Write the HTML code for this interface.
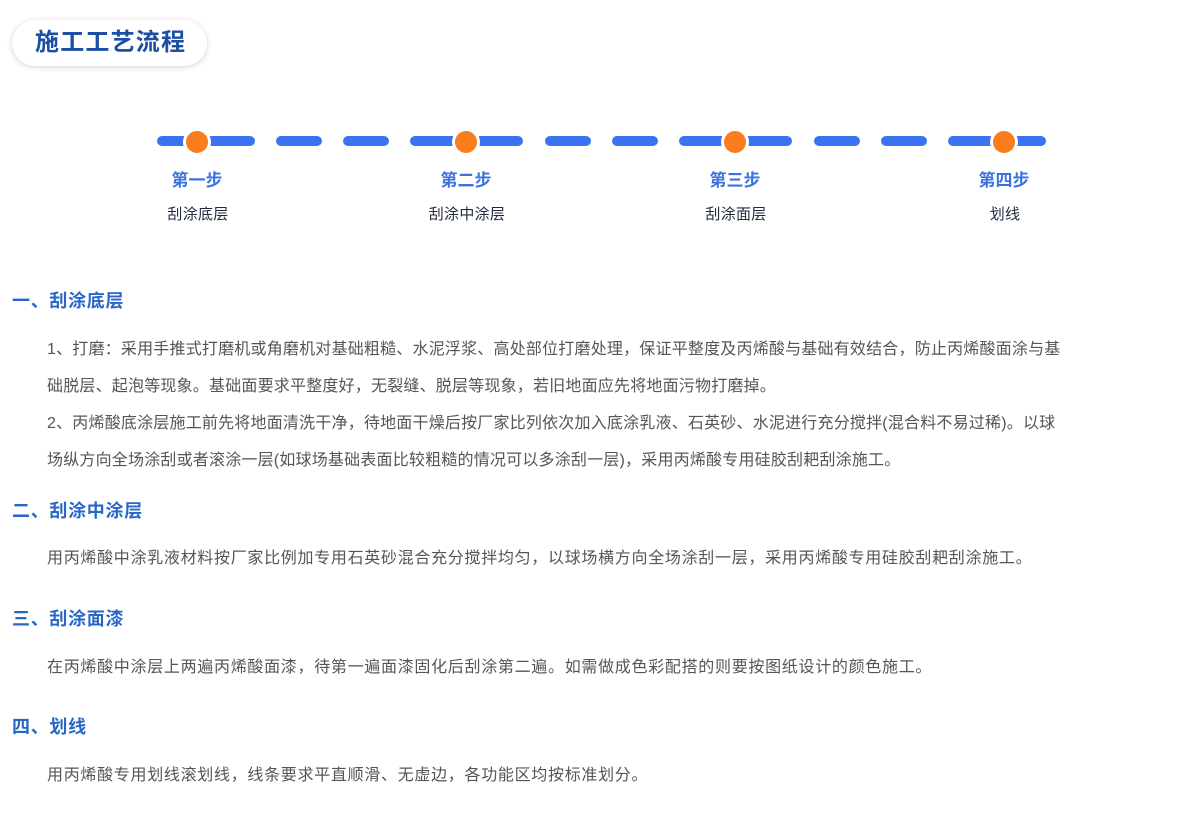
<!DOCTYPE html>
<html><head><meta charset="utf-8"><style>
body{margin:0;width:1202px;height:824px;background:#fff;position:relative;overflow:hidden;font-family:"Liberation Sans","Noto Sans CJK SC",sans-serif}
.pill{position:absolute;left:12px;top:20px;width:195px;height:46px;border-radius:23px;background:#fff;box-shadow:0 1px 6px rgba(0,0,0,.18);}
.pill span{position:absolute;left:23px;top:8px;font-size:24px;font-weight:bold;color:#1b4fa3;line-height:30px;letter-spacing:1.2px}
.d{position:absolute;top:136px;height:10px;border-radius:5px;background:#3a72f2}
.o{position:absolute;top:128px;width:22px;height:22px;margin-left:-14px;border-radius:50%;background:#f97d1d;border:3px solid #fff}
.s{position:absolute;top:170px;width:120px;margin-left:-60px;text-align:center;font-size:17px;font-weight:bold;color:#3a72e0;line-height:22px}
.n{position:absolute;top:205px;width:140px;margin-left:-70px;text-align:center;font-size:15px;color:#222a40;line-height:20px;letter-spacing:0.3px}
.h{position:absolute;left:12px;font-size:18px;font-weight:bold;color:#2866c8;line-height:24px;white-space:nowrap;letter-spacing:0.7px}
.p{position:absolute;left:47px;font-size:16px;color:#555;line-height:37px;white-space:nowrap;letter-spacing:0.7px}
</style></head><body>
<div class="pill"><span>施工工艺流程</span></div>
<div class="d" style="left:157px;width:98px"></div>
<div class="d" style="left:276px;width:46px"></div>
<div class="d" style="left:343px;width:46px"></div>
<div class="d" style="left:410px;width:113px"></div>
<div class="d" style="left:545px;width:46px"></div>
<div class="d" style="left:612px;width:46px"></div>
<div class="d" style="left:679px;width:113px"></div>
<div class="d" style="left:814px;width:46px"></div>
<div class="d" style="left:881px;width:46px"></div>
<div class="d" style="left:948px;width:98px"></div>
<div class="o" style="left:197px"></div>
<div class="o" style="left:466px"></div>
<div class="o" style="left:735px"></div>
<div class="o" style="left:1004px"></div>
<div class="s" style="left:197px">第一步</div>
<div class="s" style="left:466px">第二步</div>
<div class="s" style="left:735px">第三步</div>
<div class="s" style="left:1004px">第四步</div>
<div class="n" style="left:198px">刮涂底层</div>
<div class="n" style="left:467px">刮涂中涂层</div>
<div class="n" style="left:736px">刮涂面层</div>
<div class="n" style="left:1005px">划线</div>

<div class="h" style="top:289px">一、刮涂底层</div>
<div class="p" style="top:331px;letter-spacing:0.2px">1、打磨：采用手推式打磨机或角磨机对基础粗糙、水泥浮浆、高处部位打磨处理，保证平整度及丙烯酸与基础有效结合，防止丙烯酸面涂与基<br>础脱层、起泡等现象。基础面要求平整度好，无裂缝、脱层等现象，若旧地面应先将地面污物打磨掉。<br>2、丙烯酸底涂层施工前先将地面清洗干净，待地面干燥后按厂家比列依次加入底涂乳液、石英砂、水泥进行充分搅拌(混合料不易过稀)。以球<br>场纵方向全场涂刮或者滚涂一层(如球场基础表面比较粗糙的情况可以多涂刮一层)，采用丙烯酸专用硅胶刮耙刮涂施工。</div>
<div class="h" style="top:499px">二、刮涂中涂层</div>
<div class="p" style="top:540px">用丙烯酸中涂乳液材料按厂家比例加专用石英砂混合充分搅拌均匀，以球场横方向全场涂刮一层，采用丙烯酸专用硅胶刮耙刮涂施工。</div>
<div class="h" style="top:607px">三、刮涂面漆</div>
<div class="p" style="top:649px">在丙烯酸中涂层上两遍丙烯酸面漆，待第一遍面漆固化后刮涂第二遍。如需做成色彩配搭的则要按图纸设计的颜色施工。</div>
<div class="h" style="top:715px">四、划线</div>
<div class="p" style="top:757px">用丙烯酸专用划线滚划线，线条要求平直顺滑、无虚边，各功能区均按标准划分。</div>
</body></html>
